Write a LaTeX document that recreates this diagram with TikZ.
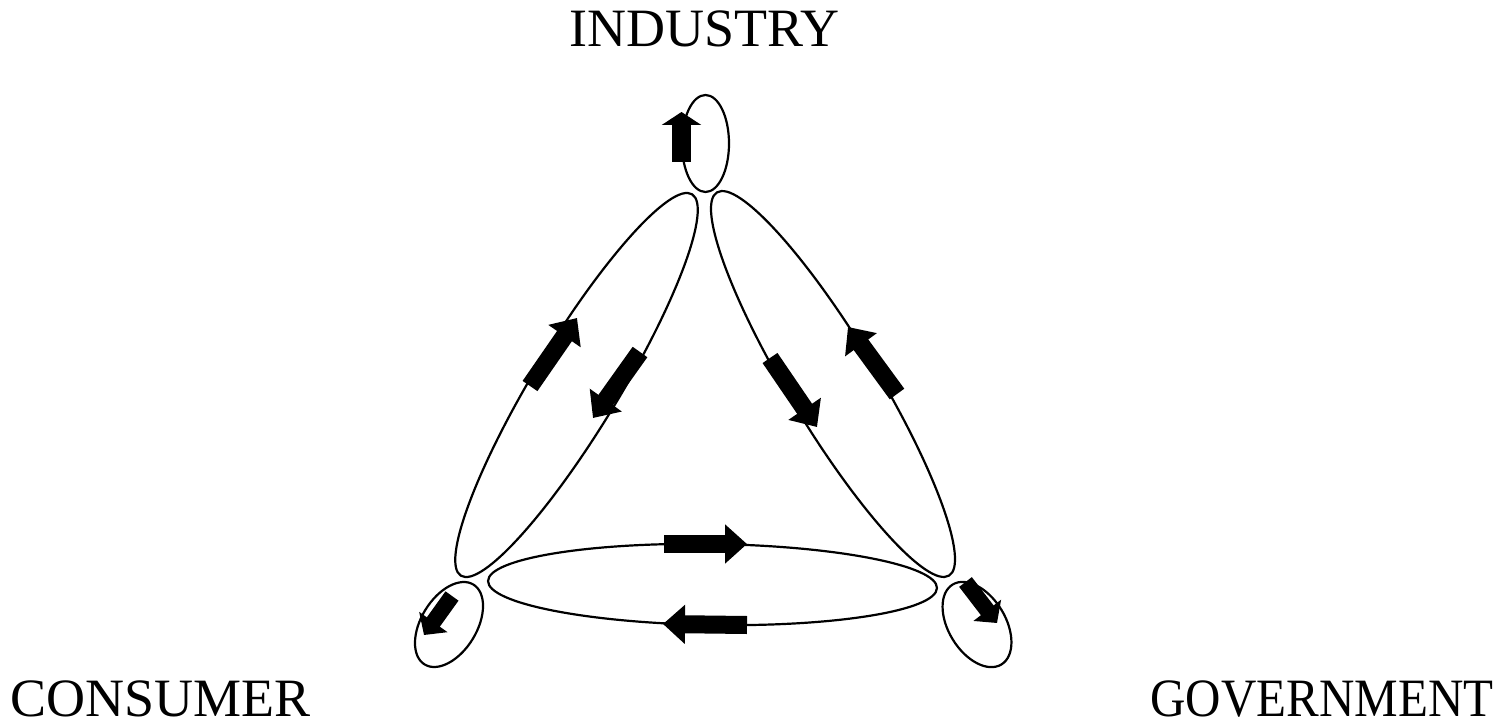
\documentclass[tikz,border=0pt]{standalone}
\usepackage{fontspec}
\setmainfont{Liberation Serif}
\usetikzlibrary{arrows.meta}
\tikzset{
  loop/.style={draw=black, line width=2.2pt},
  blockarrow/.style={line width=18pt, -{Triangle[length=22pt, width=38pt]}},
  smallarrow/.style={line width=16pt, -{Triangle[length=16pt, width=34pt]}},
  label/.style={font=\fontsize{54}{60}\selectfont, anchor=base, inner sep=0pt}
}
\begin{document}
\begin{tikzpicture}[x=1pt, y=-1pt]
\useasboundingbox (0,0) rectangle (1512,722);
% labels
\node[label] (ind) at (704.5,47) {INDUSTRY};
\node[label] (con) at (161,716) {CONSUMER};
\node[label, xscale=0.907] (gov) at (1322,716) {GOVERNMENT};
% ellipses
\draw[loop] (705.5,143.5) ellipse [x radius=23.5pt, y radius=48.5pt];
\draw[loop, rotate around={58.8:(576.5,385)}] (576.5,385) ellipse [x radius=223pt, y radius=43pt];
\draw[loop, rotate around={-58.8:(833,384)}] (833,384) ellipse [x radius=224pt, y radius=44pt];
\draw[loop, rotate around={-0.9:(712.5,584.5)}] (712.5,584.5) ellipse [x radius=224.5pt, y radius=40.5pt];
\draw[loop, rotate around={58.6:(449,624.5)}] (449,624.5) ellipse [x radius=46.8pt, y radius=27.8pt];
\draw[loop, rotate around={-58.6:(977,624.5)}] (977,624.5) ellipse [x radius=46.8pt, y radius=28.5pt];
% arrow end points
\coordinate (t1) at (681.5,162); \coordinate (h1) at (681.5,112);
\coordinate (t2) at (530,386);   \coordinate (h2) at (577,318);
\coordinate (t3) at (640,352);   \coordinate (h3) at (593,418);
\coordinate (t4) at (770,358);   \coordinate (h4) at (817,427);
\coordinate (t5) at (897,394);   \coordinate (h5) at (848,327);
\coordinate (t6) at (664,544);   \coordinate (h6) at (747,544);
\coordinate (t7) at (747,625);   \coordinate (h7) at (663,624);
\coordinate (t8) at (452,596);   \coordinate (h8) at (424,635);
\coordinate (t9) at (965.5,582); \coordinate (h9) at (997,623);
% arrows
\draw[smallarrow, line width=19pt, -{Triangle[length=13pt, width=39pt]}] (t1) -- (h1);
\draw[blockarrow] (t2) -- (h2);
\draw[blockarrow] (t3) -- (h3);
\draw[blockarrow] (t4) -- (h4);
\draw[blockarrow] (t5) -- (h5);
\draw[blockarrow] (t6) -- (h6);
\draw[blockarrow] (t7) -- (h7);
\draw[smallarrow] (t8) -- (h8);
\draw[smallarrow] (t9) -- (h9);
\end{tikzpicture}
\end{document}
